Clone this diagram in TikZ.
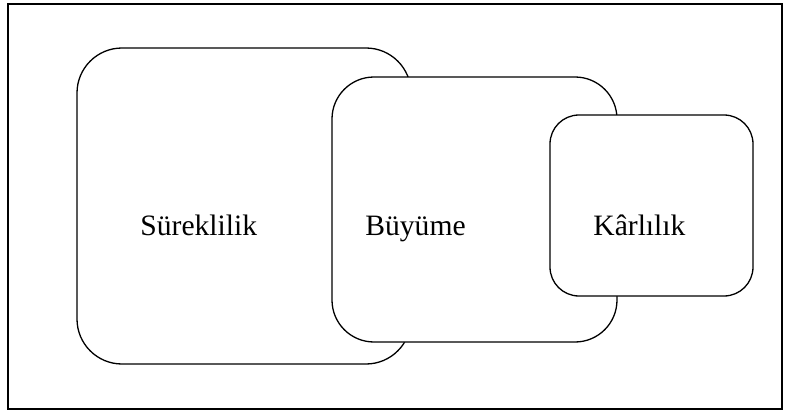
\documentclass[tikz,border=0pt]{standalone}
\usepackage{fontspec}
\setmainfont{Liberation Serif}
\begin{document}
\begin{tikzpicture}[x=0.5pt,y=-0.5pt,
  frame/.style={draw=black, line width=0.6pt, inner sep=0pt, outer sep=0pt},
  box/.style={draw=black, fill=white, line width=0.65pt, inner sep=0pt, outer sep=0pt},
  lbl/.style={anchor=base west, inner sep=0pt, font=\fontsize{14.8pt}{17pt}\selectfont}]
\useasboundingbox (0,0) rectangle (789,412);
% outer frame
\node[frame, minimum width=387pt, minimum height=202.5pt] (frame) at (395,206.5) {};
% three overlapping rounded boxes, each drawn over the previous one
\node[box, rounded corners=22.5pt, minimum width=167pt, minimum height=158pt] (sure) at (244,206) {};
\node[box, rounded corners=21pt, minimum width=142.5pt, minimum height=132.5pt] (buyu) at (474.5,209.5) {};
\node[box, rounded corners=14.5pt, minimum width=101.5pt, minimum height=90.5pt] (karl) at (651.5,205.5) {};
% labels
\node[lbl] (tsure) at (140,235) {Süreklilik};
\node[lbl] (tbuyu) at (365,235) {Büyüme};
\node[lbl] (tkarl) at (593,235) {Kârlılık};
\end{tikzpicture}
\end{document}
